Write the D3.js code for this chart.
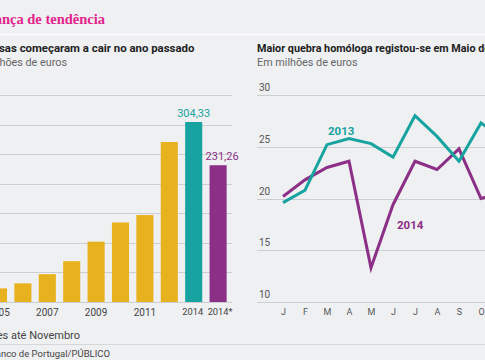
<!DOCTYPE html>
<html><head><meta charset="utf-8">
<script src="https://cdn.jsdelivr.net/npm/d3@7"></script>
<style>
html,body{margin:0;padding:0;background:#eff0f2;overflow:hidden;}
svg{display:block;font-family:Roboto, "Noto Sans", sans-serif;}
</style></head>
<body>
<svg id="c" width="485" height="360"></svg>
<script>
// ---- data ----
const barCategories = ["2005","2006","2007","2008","2009","2010","2011","2012","2014","2014*"];
const barValues = [23, 31.5, 47, 69, 102, 134.5, 147, 270.5, 304.33, 231.26];
const barTickLabels = ["2005","2007","2009","2011","2014","2014*"];
const barYTicks = [0,50,100,150,200,250,300,350];
const barValueLabels = {"2014":"304,33","2014*":"231,26"};

const months = ["J","F","M","A","M","J","J","A","S","O","N","D"];
const series2013 = [19.6, 20.8, 25.2, 25.8, 25.3, 24.0, 28.0, 26.0, 23.6, 27.3, 25.8];
const series2014 = [20.2, 21.8, 23.0, 23.6, 13.3, 19.4, 23.6, 22.8, 24.8, 20.0, 20.6];
const lineYTicks = [10,15,20,25,30];

const C = {yellow:"#e8b21f", teal:"#17a39f", purple:"#8c2f86", grid:"#cdced1", text:"#444"};

const svg = d3.select("#c");

// header
svg.append("text").attr("x",105).attr("y",24).attr("text-anchor","end")
  .attr("font-family","'Liberation Serif', serif").attr("font-weight","bold")
  .attr("font-size",14.5).attr("fill","#e2248c").text("Mudança de tendência");
svg.append("line").attr("x1",0).attr("x2",485).attr("y1",34.5).attr("y2",34.5)
  .attr("stroke","#f9f9fa").attr("stroke-width",2.5);

// ---- left bar chart ----
const yB = d3.scaleLinear().domain([0,350]).range([302,95]);
const xB = d3.scaleBand().domain(barCategories).range([-13.7,230.3]).paddingInner(0.3).paddingOuter(0.15);

svg.append("text").attr("x",-1).attr("y",52)
  .attr("font-weight","bold").attr("font-size",11.4).attr("fill","#222")
  .text("sas começaram a cair no ano passado");
svg.append("text").attr("x",67).attr("y",66).attr("text-anchor","end")
  .attr("font-size",10.8).attr("fill","#666").text("Em milhões de euros");

const gB = svg.append("g");
gB.append("g").selectAll("line").data(barYTicks).join("line")
  .attr("x1",0).attr("x2",232).attr("y1",d=>Math.round(yB(d))+0.5).attr("y2",d=>Math.round(yB(d))+0.5)
  .attr("stroke",C.grid).attr("stroke-width",1);
gB.append("g").selectAll("rect").data(barCategories).join("rect")
  .attr("x",d=>xB(d)).attr("width",xB.bandwidth())
  .attr("y",(d,i)=>yB(barValues[i])).attr("height",(d,i)=>yB(0)-yB(barValues[i]))
  .attr("fill",d=>d==="2014"?C.teal:(d==="2014*"?C.purple:C.yellow));
gB.append("g").selectAll("text").data(Object.keys(barValueLabels)).join("text")
  .attr("x",d=>xB(d)+xB.bandwidth()/2+(d==="2014*"?4:0))
  .attr("y",d=>yB(barValues[barCategories.indexOf(d)])-5)
  .attr("text-anchor","middle").attr("font-size",11)
  .attr("fill",d=>d==="2014"?C.teal:C.purple).text(d=>barValueLabels[d]);
const axB = d3.axisBottom(xB).tickValues(barTickLabels).tickSize(0).tickPadding(0);
const gax = gB.append("g").attr("transform","translate(0,306)").call(axB);
gax.select(".domain").remove();
gax.selectAll("text").attr("font-size",d=>(d==="2014"||d==="2014*")?9.3:10)
  .attr("fill",C.text).attr("dy","0.95em")
  .attr("dx",d=>d==="2014*"?2:(d==="2014"?-1:0))
  .attr("font-family","Roboto, sans-serif");

// footnotes
svg.append("text").attr("x",80).attr("y",339).attr("text-anchor","end")
  .attr("font-size",11).attr("fill",C.text).text("* Meses até Novembro");
svg.append("line").attr("x1",0).attr("x2",485).attr("y1",344.5).attr("y2",344.5)
  .attr("stroke","#d6d7da").attr("stroke-width",1);
svg.append("text").attr("x",110).attr("y",357).attr("text-anchor","end")
  .attr("font-size",9.5).attr("fill",C.text).text("Fonte: Banco de Portugal/PÚBLICO");

// ---- right line chart ----
const yL = d3.scaleLinear().domain([10,30]).range([302,95]);
const xL = d3.scaleLinear().domain([0,11]).range([283,283+11*22]);

svg.append("text").attr("x",257).attr("y",52)
  .attr("font-weight","bold").attr("font-size",10.8).attr("fill","#222")
  .text("Maior quebra homóloga registou-se em Maio de 2014");
svg.append("text").attr("x",257).attr("y",66)
  .attr("font-size",10.8).attr("fill","#666").text("Em milhões de euros");

const gL = svg.append("g");
gL.append("g").selectAll("line").data(lineYTicks).join("line")
  .attr("x1",257).attr("x2",485).attr("y1",d=>Math.round(yL(d))+0.5).attr("y2",d=>Math.round(yL(d))+0.5)
  .attr("stroke",C.grid).attr("stroke-width",1);
gL.append("g").selectAll("text").data(lineYTicks).join("text")
  .attr("x",259).attr("y",d=>yL(d)-4).attr("font-size",10).attr("fill","#555").text(d=>d);
const axL = d3.axisBottom(xL).tickValues(d3.range(months.length)).tickFormat(i=>months[i]).tickSize(0).tickPadding(0);
const gaxL = gL.append("g").attr("transform","translate(0,306)").call(axL);
gaxL.select(".domain").remove();
gaxL.selectAll("text").attr("font-size",9).attr("fill","#555").attr("dy","0.95em")
  .attr("font-family","Roboto, sans-serif");

const line = d3.line().x((d,i)=>xL(i)).y(d=>yL(d));
gL.append("path").datum(series2014).attr("d",line).attr("fill","none")
  .attr("stroke",C.purple).attr("stroke-width",3).attr("stroke-linejoin","miter");
gL.append("path").datum(series2013).attr("d",line).attr("fill","none")
  .attr("stroke",C.teal).attr("stroke-width",3).attr("stroke-linejoin","miter");
gL.append("text").attr("x",328).attr("y",135).attr("font-weight","bold").attr("font-size",11.5)
  .attr("fill",C.teal).text("2013");
gL.append("text").attr("x",397).attr("y",229).attr("font-weight","bold").attr("font-size",11.5)
  .attr("fill",C.purple).text("2014");
</script>
</body></html>
